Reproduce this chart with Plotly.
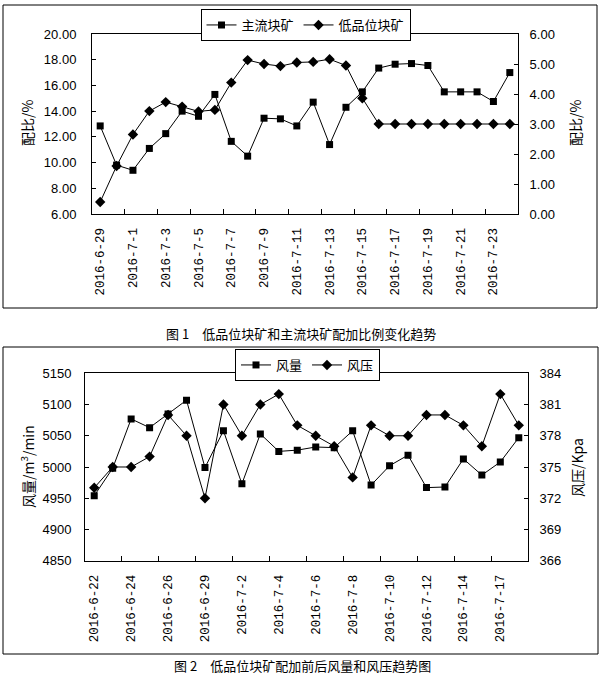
import plotly.graph_objects as go

# ---------------- data: chart 1 ----------------
cats1 = ["2016-6-29", "2016-6-30", "2016-7-1", "2016-7-2", "2016-7-3", "2016-7-4",
         "2016-7-5", "2016-7-6", "2016-7-7", "2016-7-8", "2016-7-9", "2016-7-10",
         "2016-7-11", "2016-7-12", "2016-7-13", "2016-7-14", "2016-7-15", "2016-7-16",
         "2016-7-17", "2016-7-18", "2016-7-19", "2016-7-20", "2016-7-21", "2016-7-22",
         "2016-7-23", "2016-7-24"]
main_ore = [12.85, 9.8, 9.4, 11.1, 12.25, 14.0, 13.6, 15.3, 11.65, 10.5, 13.45, 13.4,
            12.85, 14.7, 11.4, 14.3, 15.5, 17.35, 17.65, 17.7, 17.55, 15.5, 15.5, 15.5,
            14.75, 17.0]
low_ore = [0.4, 1.6, 2.65, 3.43, 3.73, 3.58, 3.42, 3.47, 4.38, 5.13, 5.0, 4.93,
           5.05, 5.07, 5.16, 4.95, 3.86, 3.0, 3.0, 3.0, 3.0, 3.0, 3.0, 3.0, 3.0, 3.0]

# ---------------- data: chart 2 ----------------
cats2 = ["2016-6-22", "2016-6-23", "2016-6-24", "2016-6-25", "2016-6-26", "2016-6-27",
         "2016-6-29", "2016-6-30", "2016-7-2", "2016-7-3", "2016-7-4", "2016-7-5",
         "2016-7-6", "2016-7-7", "2016-7-8", "2016-7-9", "2016-7-10", "2016-7-11",
         "2016-7-12", "2016-7-13", "2016-7-14", "2016-7-16", "2016-7-17", "2016-7-18"]
air_volume = [4954, 4998, 5077, 5063, 5085, 5107, 4999, 5058, 4973, 5053, 5025, 5027,
              5032, 5031, 5058, 4971, 5002, 5019, 4967, 4968, 5013, 4987, 5008, 5047]
air_pressure = [373, 375, 375, 376, 380, 378, 372, 381, 378, 381, 382, 379,
                378, 377, 374, 379, 378, 378, 380, 380, 379, 377, 382, 379]

W, H = 604, 687
def px(x):
    return x / W
def py(y):
    return 1 - y / H

CJK = "Noto Sans CJK SC"
NUM = "Liberation Sans"
MONO = "Liberation Mono"

x1 = list(range(len(cats1)))
x2 = list(range(len(cats2)))

fig = go.Figure()
fig.add_trace(go.Scatter(x=x1, y=main_ore, name="主流块矿", mode="lines+markers",
                         line=dict(color="black", width=1),
                         marker=dict(symbol="square", size=7, color="black"),
                         xaxis="x", yaxis="y", legend="legend"))
fig.add_trace(go.Scatter(x=x1, y=low_ore, name="低品位块矿", mode="lines+markers",
                         line=dict(color="black", width=1),
                         marker=dict(symbol="diamond", size=8, color="black"),
                         xaxis="x", yaxis="y2", legend="legend"))
fig.add_trace(go.Scatter(x=x2, y=air_volume, name="风量", mode="lines+markers",
                         line=dict(color="black", width=1),
                         marker=dict(symbol="square", size=7, color="black"),
                         xaxis="x2", yaxis="y3", legend="legend2"))
fig.add_trace(go.Scatter(x=x2, y=air_pressure, name="风压", mode="lines+markers",
                         line=dict(color="black", width=1),
                         marker=dict(symbol="diamond", size=8, color="black"),
                         xaxis="x2", yaxis="y4", legend="legend2"))

def xax(domain, anchor, cats):
    n = len(cats)
    return dict(domain=domain, anchor=anchor, range=[-0.5, n - 0.5],
                tickmode="array", tickvals=list(range(0, n, 2)), ticktext=cats[::2],
                ticks="", tickangle=-90, tickfont=dict(family=MONO, size=12.5, color="black"),
                ticklabelstandoff=8,
                showline=True, linecolor="black", linewidth=1, mirror=True,
                showgrid=False, zeroline=False, automargin=False,
                minor=dict(tickmode="array", tickvals=[i + 1.5 for i in range(0, n - 2, 2)],
                           ticks="inside", ticklen=5, tickcolor="black", showgrid=False))

def yax(domain, anchor, rng, dtick, fmt, side="left", overlaying=None, standoff=12):
    d = dict(domain=domain, anchor=anchor, range=rng, dtick=dtick, tick0=rng[0],
             tickformat=fmt, ticks="inside", ticklen=4, tickcolor="black",
             tickfont=dict(family=NUM, size=13, color="black"),
             ticklabelstandoff=standoff,
             showline=True, linecolor="black", linewidth=1,
             showgrid=False, zeroline=False, automargin=False, side=side)
    if overlaying:
        d["overlaying"] = overlaying
    return d

dom1x = [px(92), px(518)]
dom1y = [py(214), py(34)]
dom2x = [px(85), px(528)]
dom2y = [py(560.7), py(373.3)]

fig.update_layout(
    width=W, height=H,
    margin=dict(l=0, r=0, t=0, b=0),
    paper_bgcolor="white", plot_bgcolor="white",
    hovermode=False,
    xaxis=xax(dom1x, "y", cats1),
    yaxis=yax(dom1y, "x", [6, 20], 2, ".2f", standoff=12),
    yaxis2=yax(dom1y, "x", [0, 6], 1, ".2f", side="right", overlaying="y", standoff=8),
    xaxis2=xax(dom2x, "y3", cats2),
    yaxis3=yax(dom2y, "x2", [4850, 5150], 50, "d", standoff=10),
    yaxis4=yax(dom2y, "x2", [366, 384], 3, "d", side="right", overlaying="y3", standoff=8),
    legend=dict(orientation="h", x=px(305.5), xanchor="center", y=py(9), yanchor="top",
                bordercolor="black", borderwidth=1, bgcolor="white",
                font=dict(family=CJK, size=13, color="black"), itemwidth=30,
                tracegroupgap=0),
    legend2=dict(orientation="h", x=px(307.5), xanchor="center", y=py(349), yanchor="top",
                 bordercolor="black", borderwidth=1, bgcolor="white",
                 font=dict(family=CJK, size=13, color="black"), itemwidth=30,
                 tracegroupgap=0),
    showlegend=True,
)

# outer frames
for (a, b, c, d) in [(3, 5, 597, 308), (3, 347, 598, 654)]:
    fig.add_shape(type="rect", xref="paper", yref="paper",
                  x0=px(a), x1=px(c), y0=py(d), y1=py(b),
                  line=dict(color="black", width=1), fillcolor="rgba(0,0,0,0)", layer="below")

ann = [
    ("配比/%", 27, 123, -90),
    ("配比/%", 575, 123, -90),
    ("风量/m<sup>3</sup>/min", 27, 467, -90),
    ("风压/Kpa", 577, 468, -90),
]
for t, ax_, ay_, ang in ann:
    fig.add_annotation(text=t, x=px(ax_), y=py(ay_), xref="paper", yref="paper",
                       showarrow=False, textangle=ang, xanchor="center", yanchor="middle",
                       font=dict(family=CJK, size=14, color="black"))

fig.add_annotation(text="图 1　低品位块矿和主流块矿配加比例变化趋势", x=px(301), y=py(333),
                   xref="paper", yref="paper", showarrow=False,
                   font=dict(family=CJK, size=13, color="black"))
fig.add_annotation(text="图 2　低品位块矿配加前后风量和风压趋势图", x=px(302.5), y=py(677),
                   xref="paper", yref="paper", showarrow=False,
                   font=dict(family=CJK, size=13, color="black"))

fig.write_html("out.html", config={"displayModeBar": False},
               post_script="document.body.style.margin='0';document.body.style.overflow='hidden';")
